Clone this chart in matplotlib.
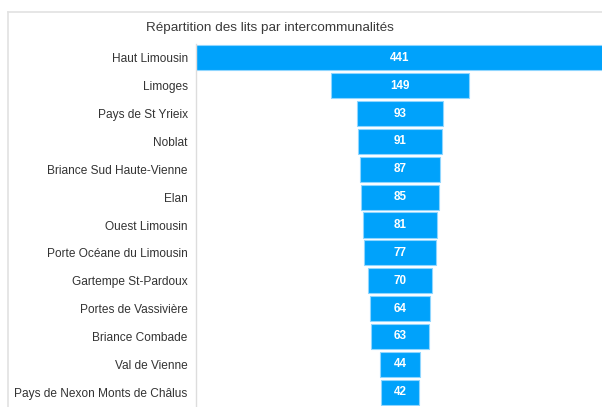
import matplotlib.pyplot as plt
from matplotlib.lines import Line2D
import numpy as np

# Répartition des lits par intercommunalités (funnel)
categories = ['Haut Limousin', 'Limoges', 'Pays de St Yrieix', 'Noblat',
              'Briance Sud Haute-Vienne', 'Elan', 'Ouest Limousin',
              'Porte Océane du Limousin', 'Gartempe St-Pardoux',
              'Portes de Vassivière', 'Briance Combade', 'Val de Vienne',
              'Pays de Nexon Monts de Châlus']
values = [441, 149, 93, 91, 87, 85, 81, 77, 70, 64, 63, 44, 42]

plt.rcParams['font.family'] = ['Liberation Sans', 'DejaVu Sans']

W, H = 602, 407
fig = plt.figure(figsize=(W / 100, H / 100), dpi=100)

# axes placed in pixel terms
ax_left, ax_right = 196, 604
ax_top, ax_bottom = 44, 406
ax = fig.add_axes([ax_left / W, 1 - ax_bottom / H,
                   (ax_right - ax_left) / W, (ax_bottom - ax_top) / H])

vmax = max(values)
y = np.arange(len(values))
vals = np.array(values)
ax.barh(y, vals, left=-vals / 2, height=0.9, color='#00a2fb',
        edgecolor='#8fd6ff', linewidth=0.8)
for yi, v in zip(y, values):
    ax.text(0, yi, str(v), ha='center', va='center', color='white',
            fontsize=8.4, fontweight='bold')

ax.set_xlim(-vmax / 2, vmax / 2)
ax.set_ylim(len(values) - 0.5, -0.5)
ax.set_yticks(y)
ax.set_yticklabels(categories, fontsize=8.6, color='#333333')
ax.tick_params(axis='y', length=0, pad=6)
ax.set_xticks([])
for s in ['top', 'right', 'bottom']:
    ax.spines[s].set_visible(False)
ax.spines['left'].set_color('#dddddd')
ax.spines['left'].set_linewidth(1)

# outer frame (top and left edges)
fig.add_artist(Line2D([8 / W, 1], [1 - 12 / H, 1 - 12 / H],
                      color='#e2e2e2', linewidth=1.2))
fig.add_artist(Line2D([8 / W, 8 / W], [0, 1 - 12 / H],
                      color='#e2e2e2', linewidth=1.2))

fig.text(270 / W, 1 - 28 / H, 'Répartition des lits par intercommunalités',
         ha='center', va='center', fontsize=9.7, color='#3a3a3a')

fig.savefig('out.png', dpi=100)
